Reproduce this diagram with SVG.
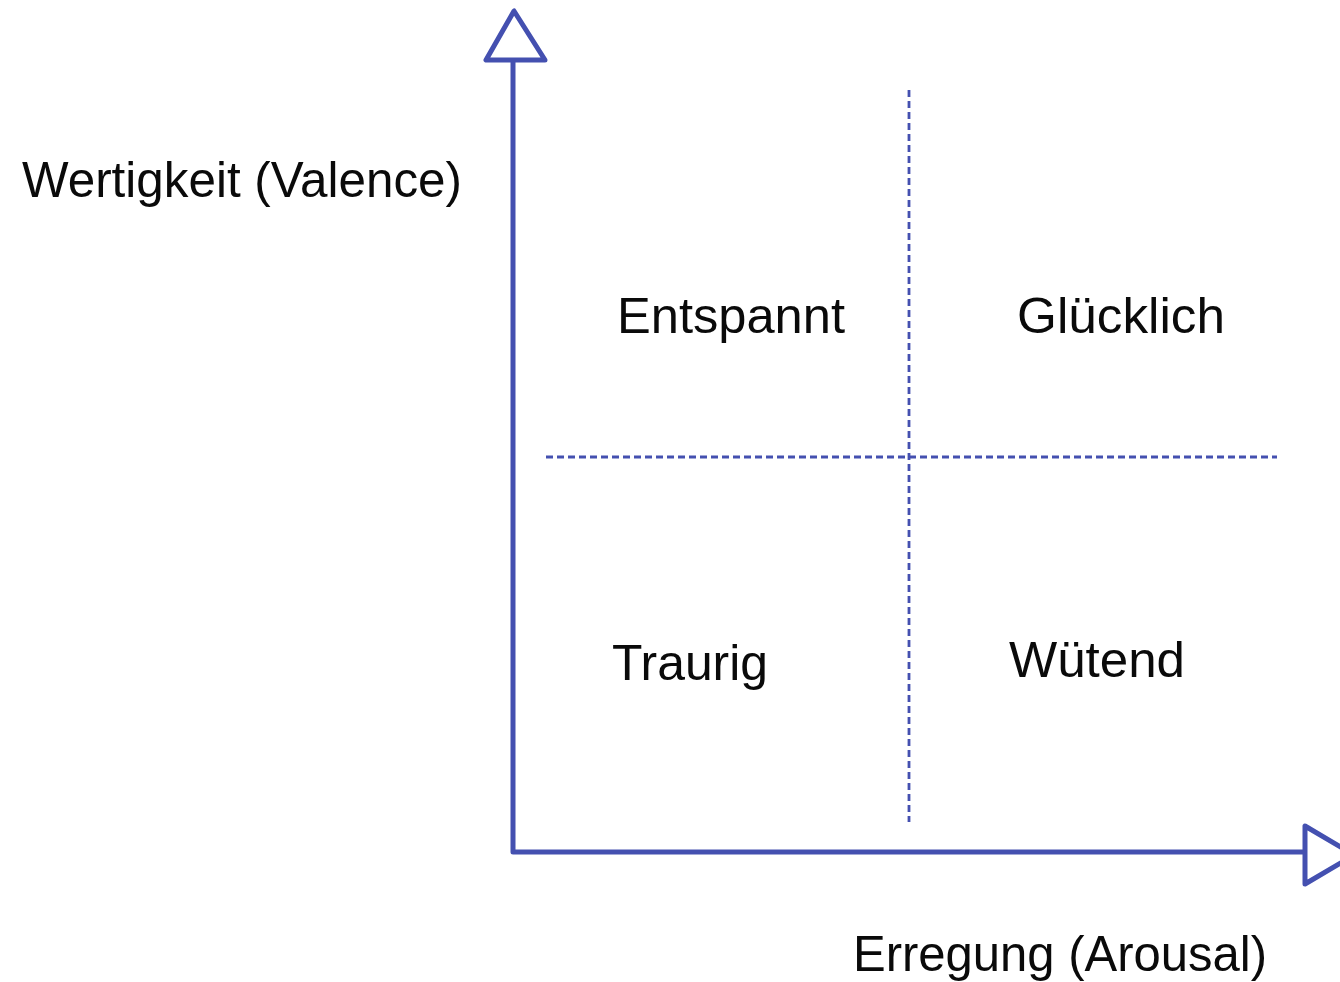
<svg xmlns="http://www.w3.org/2000/svg" width="1340" height="982" viewBox="0 0 1340 982">
<style>
.axis{stroke:#4450b0;stroke-width:5;fill:none;stroke-linejoin:round;stroke-linecap:round}
.head{stroke:#4450b0;stroke-width:5;fill:#fff;stroke-linejoin:round}
.dash{stroke:#4450b0;stroke-width:2.8;stroke-dasharray:7 4;fill:none}
text{font-family:"Liberation Sans",Arial,sans-serif;font-size:50px;fill:#0a0a0a}
</style>
<rect width="1340" height="982" fill="#fff"/>
<g id="connectors">
<path class="axis" d="M513 60 L513 852 L1305 852"/>
<polygon class="head" points="514,11 486,60 545,60"/>
<polygon class="head" points="1305,826 1305,884 1354,855"/>
<line class="dash" x1="909" y1="90" x2="909" y2="822"/>
<line class="dash" x1="546" y1="457" x2="1277" y2="457"/>
</g>
<g id="label-valence"><text x="22" y="197" textLength="440" lengthAdjust="spacingAndGlyphs">Wertigkeit (Valence)</text></g>
<g id="label-arousal"><text x="853" y="971" textLength="414" lengthAdjust="spacingAndGlyphs">Erregung (Arousal)</text></g>
<g id="node-entspannt"><text x="617" y="333" textLength="228" lengthAdjust="spacingAndGlyphs">Entspannt</text></g>
<g id="node-gluecklich"><text x="1017" y="333" textLength="208" lengthAdjust="spacingAndGlyphs">Glücklich</text></g>
<g id="node-traurig"><text x="612" y="680" textLength="156" lengthAdjust="spacingAndGlyphs">Traurig</text></g>
<g id="node-wuetend"><text x="1009" y="677" textLength="176" lengthAdjust="spacingAndGlyphs">Wütend</text></g>
</svg>
